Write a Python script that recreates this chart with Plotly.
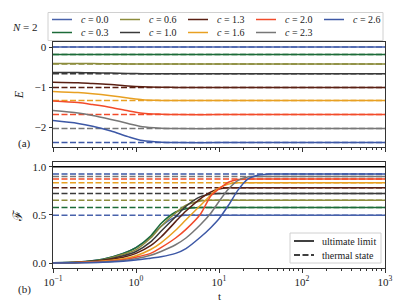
import plotly.graph_objects as go

# ---------------- data ----------------
c_labels = ["0.0", "0.3", "0.6", "1.0", "1.3", "1.6", "2.0", "2.3", "2.6"]
colors = ["#4862ab", "#1c6b38", "#8c8c3c", "#3a3a3a", "#5a1f12",
          "#e8a022", "#f24b2a", "#777777", "#3d58a6"]

# thermal-state values (dashed)
E_thermal = [0.0, -0.19, -0.425, -0.67, -1.01, -1.34, -1.69, -2.04, -2.39]
F_thermal = [0.497, 0.576, 0.653, 0.722, 0.781, 0.833, 0.872, 0.899, 0.924]

# energy curves (solid)
t_E = [0.1, 0.2, 0.3, 0.5, 0.8, 1.2, 2, 3, 10, 100, 1000]
E_curves = [
    [0, 0, 0, 0, 0, 0, 0, 0, 0, 0, 0],
    [-0.185, -0.186, -0.187, -0.188, -0.189, -0.19, -0.19, -0.19, -0.19, -0.19, -0.19],
    [-0.41, -0.412, -0.415, -0.418, -0.422, -0.424, -0.425, -0.425, -0.425, -0.425, -0.425],
    [-0.635, -0.64, -0.645, -0.652, -0.66, -0.667, -0.67, -0.67, -0.67, -0.67, -0.67],
    [-0.88, -0.895, -0.915, -0.94, -0.975, -0.995, -1.005, -1.01, -1.01, -1.01, -1.01],
    [-1.11, -1.14, -1.17, -1.22, -1.275, -1.32, -1.335, -1.34, -1.34, -1.34, -1.34],
    [-1.35, -1.39, -1.44, -1.51, -1.595, -1.655, -1.68, -1.69, -1.69, -1.69, -1.69],
    [-1.59, -1.65, -1.71, -1.81, -1.91, -1.995, -2.03, -2.04, -2.04, -2.04, -2.04],
    [-1.84, -1.91, -1.98, -2.10, -2.24, -2.34, -2.38, -2.39, -2.39, -2.39, -2.39],
]

# fidelity curves (solid)
t_F = [0.1, 0.2, 0.4, 0.7, 1, 1.5, 2, 3, 4, 6, 8, 10, 13, 17, 22, 30, 40, 100, 1000]
F_curves = [
    [0.003, 0.01, 0.04, 0.10, 0.16, 0.27, 0.38, 0.48, 0.497, 0.497, 0.497, 0.497, 0.497, 0.497, 0.497, 0.497, 0.497, 0.497, 0.497],
    [0.003, 0.01, 0.04, 0.10, 0.16, 0.28, 0.41, 0.53, 0.565, 0.576, 0.576, 0.576, 0.576, 0.576, 0.576, 0.576, 0.576, 0.576, 0.576],
    [0.002, 0.008, 0.035, 0.09, 0.14, 0.26, 0.38, 0.52, 0.60, 0.645, 0.653, 0.653, 0.653, 0.653, 0.653, 0.653, 0.653, 0.653, 0.653],
    [0.002, 0.007, 0.03, 0.075, 0.12, 0.22, 0.33, 0.48, 0.59, 0.69, 0.715, 0.722, 0.722, 0.722, 0.722, 0.722, 0.722, 0.722, 0.722],
    [0.002, 0.006, 0.025, 0.06, 0.10, 0.18, 0.27, 0.43, 0.54, 0.67, 0.74, 0.77, 0.781, 0.781, 0.781, 0.781, 0.781, 0.781, 0.781],
    [0.001, 0.005, 0.02, 0.045, 0.075, 0.14, 0.21, 0.34, 0.45, 0.60, 0.71, 0.78, 0.82, 0.833, 0.833, 0.833, 0.833, 0.833, 0.833],
    [0.001, 0.004, 0.015, 0.035, 0.06, 0.10, 0.16, 0.26, 0.35, 0.51, 0.70, 0.77, 0.84, 0.868, 0.872, 0.872, 0.872, 0.872, 0.872],
    [0.001, 0.003, 0.01, 0.025, 0.045, 0.08, 0.12, 0.19, 0.26, 0.40, 0.52, 0.64, 0.77, 0.86, 0.895, 0.899, 0.899, 0.899, 0.899],
    [0.001, 0.002, 0.007, 0.017, 0.03, 0.05, 0.065, 0.10, 0.15, 0.27, 0.37, 0.46, 0.60, 0.76, 0.87, 0.915, 0.924, 0.924, 0.924],
]

t_range = [0.1, 1000]
F_ultimate = [1.0, 1.0]

x_tickvals = [0.1, 1, 10, 100, 1000]
x_ticktext = ["10<sup>−1</sup>", "10<sup>0</sup>", "10<sup>1</sup>", "10<sup>2</sup>", "10<sup>3</sup>"]

legend2_labels = ["ultimate limit", "thermal state"]

FONT = "Liberation Serif"
DASH = "6px,2.5px"
LW = 1.5

# the page body adds an 8px margin, so the figure is 8px smaller
W, H = 403, 300
ML, MR, MT, MB = 45, 26, 34, 40
PW, PH = W - ML - MR, H - MT - MB
OFF = 8


def px2x(px):
    return (px - OFF - ML) / PW


def px2y(py):
    return 1 - (py - OFF - MT) / PH


fig = go.Figure()

for i, lab in enumerate(c_labels):
    col = colors[i]
    fig.add_trace(go.Scatter(x=t_range, y=[E_thermal[i]] * 2, mode="lines",
                             line=dict(color=col, width=LW, dash=DASH),
                             showlegend=False, xaxis="x", yaxis="y", hoverinfo="skip"))
    fig.add_trace(go.Scatter(x=t_E, y=E_curves[i], mode="lines",
                             line=dict(color=col, width=LW, shape="spline", smoothing=0.8),
                             name=f"c = {lab}", showlegend=False,
                             xaxis="x", yaxis="y"))
    fig.add_trace(go.Scatter(x=t_range, y=[F_thermal[i]] * 2, mode="lines",
                             line=dict(color=col, width=LW, dash=DASH),
                             showlegend=False, xaxis="x2", yaxis="y2", hoverinfo="skip"))
    fig.add_trace(go.Scatter(x=t_F, y=F_curves[i], mode="lines",
                             line=dict(color=col, width=LW, shape="spline", smoothing=0.8),
                             name=f"c = {lab}", showlegend=False, xaxis="x2", yaxis="y2"))

fig.add_trace(go.Scatter(x=t_range, y=F_ultimate, mode="lines",
                         line=dict(color="black", width=LW),
                         name=legend2_labels[0], showlegend=False,
                         xaxis="x2", yaxis="y2"))

# ---------- hand-placed legends (matplotlib style) ----------
shapes = []
annotations = []

# legend 1 : 5 columns x 2 rows, column-major order
shapes.append(dict(type="rect", xref="paper", yref="paper",
                   x0=px2x(48), x1=px2x(383), y0=px2y(12.5), y1=px2y(40.5),
                   line=dict(color="#d0d0d0", width=1), fillcolor="rgba(255,255,255,0.85)",
                   layer="above"))
col_x = [52, 120, 188, 256, 324]
row_y = [19.5, 32.5]
for i, lab in enumerate(c_labels):
    cx = col_x[i // 2]
    ry = row_y[i % 2]
    shapes.append(dict(type="line", xref="paper", yref="paper",
                       x0=px2x(cx), x1=px2x(cx + 20), y0=px2y(ry), y1=px2y(ry),
                       line=dict(color=colors[i], width=LW), layer="above"))
    annotations.append(dict(text=f"<i>c</i> = {lab}", x=px2x(cx + 27), y=px2y(ry),
                            xref="paper", yref="paper", xanchor="left", yanchor="middle",
                            showarrow=False, font=dict(family=FONT, size=10, color="#222")))

# legend 2 : bottom-right in panel (b)
shapes.append(dict(type="rect", xref="paper", yref="paper",
                   x0=px2x(290), x1=px2x(381), y0=px2y(233), y1=px2y(263),
                   line=dict(color="#d0d0d0", width=1), fillcolor="rgba(255,255,255,0.85)",
                   layer="above"))
for j, (lab, dash) in enumerate(zip(legend2_labels, ["solid", DASH])):
    ry = [241, 255][j]
    shapes.append(dict(type="line", xref="paper", yref="paper",
                       x0=px2x(294), x1=px2x(314), y0=px2y(ry), y1=px2y(ry),
                       line=dict(color="black", width=LW, dash=dash), layer="above"))
    annotations.append(dict(text=lab, x=px2x(320), y=px2y(ry),
                            xref="paper", yref="paper", xanchor="left", yanchor="middle",
                            showarrow=False, font=dict(family=FONT, size=10, color="#222")))

txt_font = dict(family=FONT, size=11, color="#222")
annotations += [
    dict(text="<i>N</i> = 2", x=px2x(25), y=px2y(27), xref="paper", yref="paper",
         xanchor="center", yanchor="middle", showarrow=False, font=txt_font),
    dict(text="(a)", x=px2x(24), y=px2y(143), xref="paper", yref="paper",
         xanchor="center", yanchor="middle", showarrow=False, font=txt_font),
    dict(text="(b)", x=px2x(24), y=px2y(289), xref="paper", yref="paper",
         xanchor="center", yanchor="middle", showarrow=False, font=txt_font),
    dict(text="t", x=px2x(219), y=px2y(296), xref="paper", yref="paper",
         xanchor="center", yanchor="middle", showarrow=False, font=txt_font),
]

axis_common = dict(showline=True, linecolor="#333333", linewidth=1, mirror=True,
                   showgrid=False, zeroline=False, ticks="outside", ticklen=3.5,
                   tickcolor="#333333", automargin=False,
                   tickfont=dict(family=FONT, size=11, color="#222"))

xaxis_common = dict(axis_common, type="log", range=[-1, 3],
                    tickvals=x_tickvals, ticktext=x_ticktext,
                    minor=dict(ticks="outside", ticklen=2, tickcolor="#333333",
                               dtick="D1", showgrid=False))

fig.update_layout(
    width=W, height=H,
    margin=dict(l=ML, r=MR, t=MT, b=MB, autoexpand=False),
    paper_bgcolor="white", plot_bgcolor="white",
    font=dict(family=FONT, size=11, color="#222"),
    showlegend=False,
    xaxis=dict(xaxis_common, domain=[0, 1], anchor="y", showticklabels=False),
    yaxis=dict(axis_common, domain=[px2y(147), 1], anchor="x", range=[-2.5, 0.125],
               tickvals=[0, -1, -2], ticktext=["0", "−1", "−2"],
               title=dict(text="<i>E</i>", standoff=8, font=dict(family=FONT, size=12))),
    xaxis2=dict(xaxis_common, domain=[0, 1], anchor="y2", ticklabelstandoff=0),
    yaxis2=dict(axis_common, domain=[0, px2y(162)], anchor="x2", range=[-0.052, 1.05],
                tickvals=[0, 0.5, 1.0], ticktext=["0.0", "0.5", "1.0"],
                title=dict(text="ℱ", standoff=6, font=dict(family=FONT, size=13))),
    shapes=shapes,
    annotations=annotations,
)

fig.write_html("out.html")
